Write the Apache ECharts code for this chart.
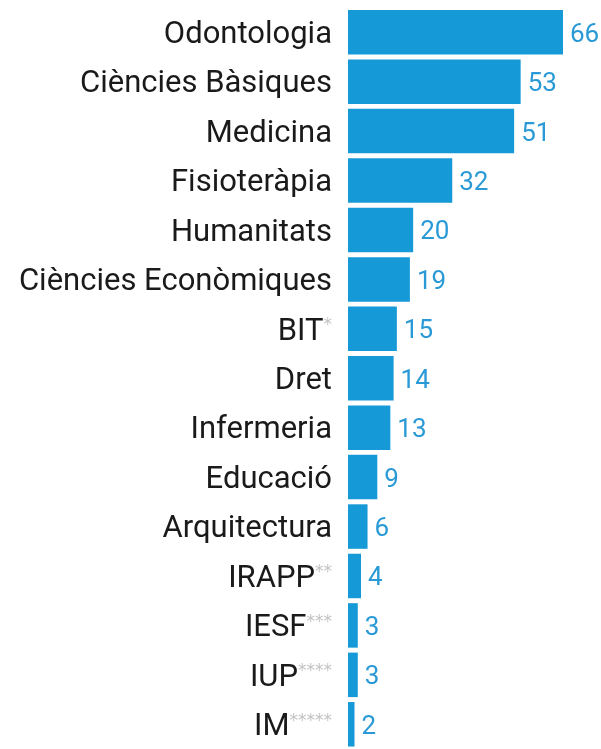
<!DOCTYPE html>
<html>
<head>
<meta charset="utf-8">
<script src="https://cdn.jsdelivr.net/npm/echarts@6/dist/echarts.min.js"></script>
<style>
  html, body { margin: 0; padding: 0; background: #fff; }
  #chart { width: 601px; height: 749px; }
</style>
</head>
<body>
<div id="chart"></div>
<script>
const categories = ['Odontologia', 'Ciències Bàsiques', 'Medicina', 'Fisioteràpia', 'Humanitats',
  'Ciències Econòmiques', 'BIT', 'Dret', 'Infermeria', 'Educació', 'Arquitectura',
  'IRAPP', 'IESF', 'IUP', 'IM']
const marks = ['', '', '', '', '', '', '*', '', '', '', '', '**', '***', '****', '*****']
const values = [66, 53, 51, 32, 20, 19, 15, 14, 13, 9, 6, 4, 3, 3, 2]

const chart = echarts.init(document.getElementById('chart'))

const option = {
  animation: false,
  grid: { left: 348, width: 215, top: 7.5, height: 750 },
  xAxis: {
    type: 'value',
    min: 0,
    max: 66,
    show: false
  },
  yAxis: {
    type: 'category',
    inverse: true,
    data: categories,
    axisLine: { show: false },
    axisTick: { show: false },
    axisLabel: {
      margin: 16,
      formatter: (name, i) => marks[i] ? '{n|' + name + '}{m|' + marks[i] + '}' : '{n|' + name + '}',
      rich: {
        n: { fontFamily: 'Roboto', fontSize: 31, color: '#1a1a1a', padding: [6, 0, 0, 0] },
        m: { fontFamily: 'DejaVu Sans', fontSize: 17, color: '#c2c2c2', verticalAlign: 'top', padding: [7, 0, 0, 0] }
      }
    }
  },
  series: [{
    type: 'bar',
    data: values,
    barCategoryGap: '10%',
    itemStyle: { color: '#1699d7' },
    label: {
      show: true,
      position: 'right',
      distance: 7,
      offset: [0, 3],
      fontFamily: 'Roboto',
      fontSize: 26,
      color: '#2a9ad6'
    }
  }]
}

chart.setOption(option)
</script>
</body>
</html>
